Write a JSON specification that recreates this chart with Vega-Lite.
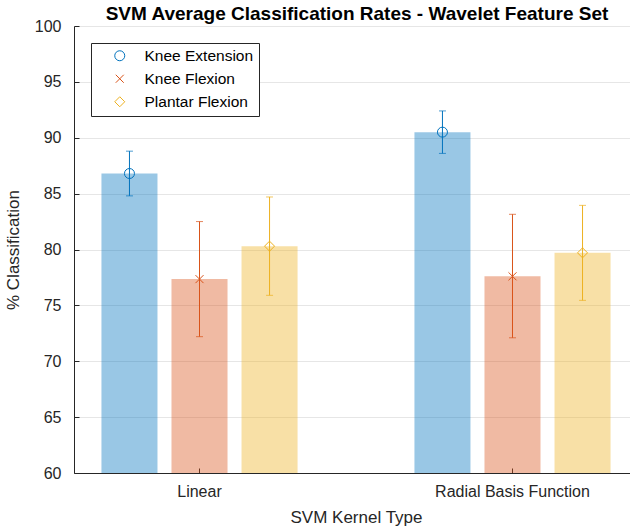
{
  "$schema": "https://vega.github.io/schema/vega-lite/v6.json",
  "width": 556,
  "height": 447,
  "autosize": {"type": "none"},
  "padding": {"left": 74, "top": 26, "right": 0, "bottom": 58},
  "title": {
    "text": "SVM Average Classification Rates - Wavelet Feature Set",
    "font": "Liberation Sans",
    "fontSize": 19,
    "fontWeight": "bold",
    "color": "#000000",
    "anchor": "middle",
    "offset": -6,
    "dx": 5
  },
  "config": {
    "view": {"stroke": null},
    "font": "Liberation Sans",
    "axis": {
      "labelFont": "Liberation Sans",
      "titleFont": "Liberation Sans",
      "labelColor": "#262626",
      "titleColor": "#262626",
      "domainColor": "#262626",
      "tickColor": "#262626",
      "labelFontSize": 16,
      "titleFontSize": 17,
      "titleFontWeight": "normal"
    },
    "legend": {
      "orient": "none",
      "legendX": 17,
      "legendY": 17,
      "strokeColor": "#262626",
      "fillColor": "#ffffff",
      "padding": 5,
      "symbolOffset": 16,
      "labelOffset": 17,
      "labelFont": "Liberation Sans",
      "labelFontSize": 15.5,
      "labelColor": "#000000",
      "rowPadding": 6,
      "symbolSize": 100,
      "symbolStrokeWidth": 1
    }
  },
  "data": {
    "values": [
      {"kernel": "Linear", "movement": "Knee Extension", "mean": 86.8, "lo": 84.8, "hi": 88.8},
      {"kernel": "Linear", "movement": "Knee Flexion", "mean": 77.35, "lo": 72.2, "hi": 82.5},
      {"kernel": "Linear", "movement": "Plantar Flexion", "mean": 80.3, "lo": 75.9, "hi": 84.7},
      {"kernel": "Radial Basis Function", "movement": "Knee Extension", "mean": 90.5, "lo": 88.6, "hi": 92.4},
      {"kernel": "Radial Basis Function", "movement": "Knee Flexion", "mean": 77.6, "lo": 72.1, "hi": 83.15},
      {"kernel": "Radial Basis Function", "movement": "Plantar Flexion", "mean": 79.7, "lo": 75.45, "hi": 83.95}
    ]
  },
  "encoding": {
    "x": {
      "field": "kernel",
      "type": "nominal",
      "sort": ["Linear", "Radial Basis Function"],
      "scale": {"paddingInner": 0.3, "paddingOuter": 0.051, "range": [0, 564]},
      "title": "SVM Kernel Type",
      "axis": {"labelAngle": 0, "tickSize": -5, "labelPadding": 15, "titlePadding": 10, "grid": false}
    },
    "xOffset": {
      "field": "movement",
      "type": "nominal",
      "sort": ["Knee Extension", "Knee Flexion", "Plantar Flexion"],
      "scale": {"paddingInner": 0.2, "paddingOuter": 0.164}
    },
    "color": {
      "field": "movement",
      "type": "nominal",
      "scale": {"domain": ["Knee Extension", "Knee Flexion", "Plantar Flexion"], "range": ["#0072BD", "#D95319", "#EDB120"]},
      "legend": {
        "title": null,
        "encode": {
          "symbols": {
            "update": {
              "fillOpacity": {"value": 0},
              "stroke": {"scale": "color", "field": "value"},
              "strokeOpacity": {"value": 1},
              "opacity": {"value": 1},
              "strokeWidth": {"value": 1}
            }
          }
        }
      }
    }
  },
  "layer": [
    {
      "mark": {"type": "bar", "opacity": 0.4, "clip": true},
      "encoding": {
        "y": {
          "field": "mean",
          "type": "quantitative",
          "scale": {"domain": [60, 100], "zero": false, "nice": false},
          "title": "% Classification",
          "axis": {
            "values": [60, 65, 70, 75, 80, 85, 90, 95, 100],
            "grid": true,
            "gridColor": "#e6e6e6",
            "tickSize": -5,
            "labelPadding": 18,
            "titlePadding": 12
          }
        }
      }
    },
    {
      "mark": {"type": "rule", "strokeWidth": 1},
      "encoding": {
        "y": {"field": "lo", "type": "quantitative"},
        "y2": {"field": "hi"}
      }
    },
    {
      "mark": {"type": "tick", "size": 7, "thickness": 1},
      "encoding": {"y": {"field": "lo", "type": "quantitative"}}
    },
    {
      "mark": {"type": "tick", "size": 7, "thickness": 1},
      "encoding": {"y": {"field": "hi", "type": "quantitative"}}
    },
    {
      "mark": {"type": "point", "filled": false, "size": 100, "strokeWidth": 1, "opacity": 1},
      "encoding": {
        "y": {"field": "mean", "type": "quantitative"},
        "shape": {
          "field": "movement",
          "type": "nominal",
          "scale": {"domain": ["Knee Extension", "Knee Flexion", "Plantar Flexion"], "range": ["circle", "M-0.8,-0.8L0.8,0.8M0.8,-0.8L-0.8,0.8", "diamond"]},
          "legend": {"title": null}
        }
      }
    }
  ]
}
